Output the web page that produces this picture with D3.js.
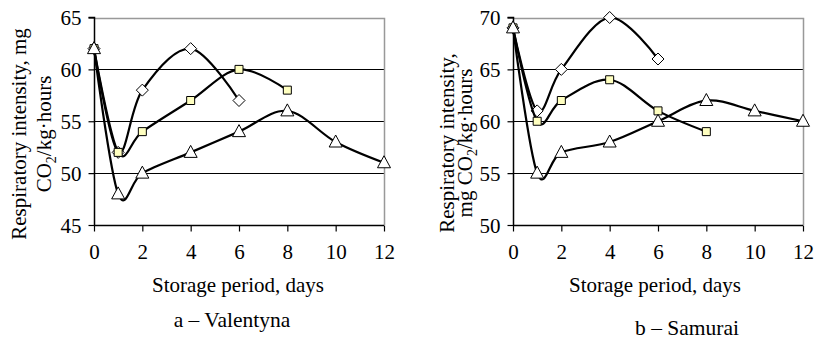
<!DOCTYPE html>
<html><head><meta charset="utf-8">
<script src="https://cdn.jsdelivr.net/npm/d3@7"></script>
<style>body{margin:0;background:#fff}svg{display:block}svg text{font-family:"Liberation Serif","Times New Roman",Tinos,"DejaVu Serif",serif !important;fill:#000}</style>
</head><body>
<svg id="c" width="815" height="341"></svg>
<script>
// Data
const days = [0, 1, 2, 4, 6, 8, 10, 12];
const xTicks = [0, 2, 4, 6, 8, 10, 12];

// a – Valentyna
const valDiamond = [62, 52, 58, 62, 57];
const valSquare = [62, 52, 54, 57, 60, 58];
const valTriangle = [62, 48, 50, 52, 54, 56, 53, 51];
const valYTicks = [45, 50, 55, 60, 65];

// b – Samurai
const samDiamond = [69, 61, 65, 70, 66];
const samSquare = [69, 60, 62, 64, 61, 59];
const samTriangle = [69, 55, 57, 58, 60, 62, 61, 60];
const samYTicks = [50, 55, 60, 65, 70];

const FONT = '"Liberation Serif","Times New Roman",Tinos,"DejaVu Serif",serif';
const svg = d3.select("#c");

function panel(cfg) {
  const g = svg.append("g").attr("font-family", FONT);
  const x = d3.scaleLinear().domain([0, 12]).range([cfg.x0, cfg.x1]);
  const y = d3.scaleLinear().domain([cfg.yTicks[0], cfg.yTicks[cfg.yTicks.length - 1]]).range([225, 17.5]);

  g.selectAll(".grid").data(cfg.yTicks.slice(1, -1)).enter().append("line")
    .attr("x1", cfg.x0).attr("x2", cfg.x1)
    .attr("y1", d => Math.round(y(d)) + 0.5).attr("y2", d => Math.round(y(d)) + 0.5)
    .attr("stroke", "#000").attr("stroke-width", 1.2);
  const yTop = Math.round(y(cfg.yTicks[cfg.yTicks.length - 1])) + 0.5;
  g.append("path")
    .attr("d", `M${cfg.x0},${yTop}H${Math.round(cfg.x1) + 0.5}V225`)
    .attr("fill", "none").attr("stroke", "#999").attr("stroke-width", 1.5);

  const xa = g.append("g").attr("transform", "translate(0,225.5)")
    .call(d3.axisBottom(x).tickValues(xTicks).tickSize(6).tickPadding(10));
  const ya = g.append("g").attr("transform", `translate(${Math.round(cfg.x0) + 0.5},0)`)
    .call(d3.axisLeft(y).tickValues(cfg.yTicks).tickSize(6).tickPadding(7));
  [xa, ya].forEach(a => {
    a.attr("font-family", FONT).attr("font-size", 21);
    a.select(".domain").attr("stroke", "#000").attr("stroke-width", 1.5);
    a.selectAll(".tick line").attr("stroke", "#000").attr("stroke-width", 1.2);
    a.selectAll("text").attr("fill", "#000");
  });
  ya.select(".domain").attr("d", `M-6,${y(cfg.yTicks[cfg.yTicks.length-1])}H0V225.5`);
  xa.select(".domain").attr("d", `M${cfg.x0},0H${cfg.x1}`);
  ya.selectAll("text").attr("dy", "0.35em");
  xa.selectAll("text").attr("dy", "0.85em");

  const line = d3.line().x((d, i) => x(days[i])).y(d => y(d)).curve(d3.curveCardinal.tension(0));

  const series = [
    { v: cfg.diamond, shape: "diamond" },
    { v: cfg.square, shape: "square" },
    { v: cfg.triangle, shape: "triangle" }
  ];
  series.forEach(s => {
    g.append("path").datum(s.v).attr("d", line)
      .attr("fill", "none").attr("stroke", "#000").attr("stroke-width", 2.2);
    const m = g.selectAll(null).data(s.v).enter().append("path")
      .attr("transform", (d, i) => `translate(${x(days[i])},${y(d)})`)
      .attr("stroke", "#000").attr("stroke-width", 1);
    if (s.shape === "diamond") m.attr("d", "M0,-6L6,0L0,6L-6,0Z").attr("fill", "#fff");
    if (s.shape === "square") m.attr("d", "M-4,-4H4V4H-4Z").attr("fill", "#ffffc0");
    if (s.shape === "triangle") m.attr("d", "M0,-7L6.5,5L-6.5,5Z").attr("fill", "#fff");
  });

  g.append("text").attr("x", cfg.xTitleX).attr("y", 292).attr("text-anchor", "middle")
    .attr("font-size", 21).text("Storage period, days");
  cfg.yLines.forEach((t, i) => {
    const tx = g.append("text").attr("transform", `translate(${cfg.yLabelX[i]},${cfg.yLabelY}) rotate(-90)`)
      .attr("text-anchor", "middle").attr("font-size", 21);
    if (t.indexOf("CO2") >= 0) {
      const parts = t.split("CO2");
      tx.append("tspan").text(parts[0] + "CO");
      tx.append("tspan").attr("dy", 5).attr("font-size", 14).text("2");
      tx.append("tspan").attr("dy", -5).text(parts[1]);
    } else tx.text(t);
  });
  g.append("text").attr("x", cfg.capX).attr("y", cfg.capY).attr("text-anchor", "middle")
    .attr("font-size", 21.5).text(cfg.caption);
}

panel({
  x0: 94, x1: 384, yTicks: valYTicks,
  diamond: valDiamond, square: valSquare, triangle: valTriangle,
  xTitleX: 238, yLines: ["Respiratory intensity, mg", "CO2/kg·hours"],
  yLabelX: [26, 51], yLabelY: 134, caption: "a – Valentyna", capX: 232, capY: 327
});
panel({
  x0: 513, x1: 803, yTicks: samYTicks,
  diamond: samDiamond, square: samSquare, triangle: samTriangle,
  xTitleX: 655, yLines: ["Respiratory intensity,", "mg CO2/kg·hours"],
  yLabelX: [454, 472], yLabelY: 143, caption: "b – Samurai", capX: 687, capY: 335
});
</script>
</body></html>
